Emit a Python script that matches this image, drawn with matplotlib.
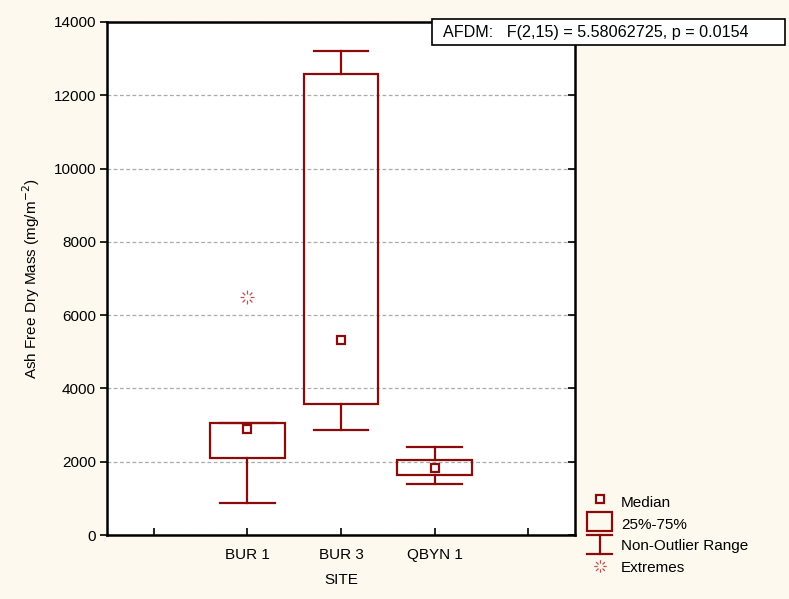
import matplotlib
matplotlib.use("Agg")
import numpy as np
import matplotlib.pyplot as plt
from matplotlib.patches import Rectangle
from matplotlib.lines import Line2D
from matplotlib.path import Path
from matplotlib.legend_handler import HandlerBase

plt.rcParams['font.family'] = ['Liberation Sans', 'DejaVu Sans']

sites = ["BUR 1", "BUR 3", "QBYN 1"]
q1 = [2115, 3580, 1643]
q3 = [3061, 12584, 2060]
medians = [2887, 5334, 1842]
whisk_lo = [868, 2859, 1386]
whisk_hi = [3061, 13220, 2415]
extremes_site = ["BUR 1"]
extremes_val = [6488]
yticks = [0, 2000, 4000, 6000, 8000, 10000, 12000, 14000]
stats_text = "AFDM:   F(2,15) = 5.58062725, p = 0.0154"

RED = "#8B0A0A"
EXT = "#C05050"
BG = "#FDF9EE"
FS = 11

# starburst marker: 8 short radial dashes with hollow centre
_verts, _codes = [], []
for k in range(8):
    ang = k * np.pi / 4
    _verts += [(0.45 * np.cos(ang), 0.45 * np.sin(ang)), (np.cos(ang), np.sin(ang))]
    _codes += [Path.MOVETO, Path.LINETO]
STAR = Path(_verts, _codes)

fig = plt.figure(figsize=(7.89, 5.99), dpi=100, facecolor=BG)
ax = fig.add_axes([0.1356, 0.1068, 0.5932, 0.8565])
ax.set_facecolor("white")

positions = [1, 2, 3]
box_w = 0.8
cap_w = 0.58
for x, lo, a, m, b, hi in zip(positions, whisk_lo, q1, medians, q3, whisk_hi):
    ax.add_patch(Rectangle((x - box_w / 2, a), box_w, b - a, fill=False,
                           edgecolor=RED, lw=1.6, zorder=3))
    ax.plot([x, x], [lo, a], color=RED, lw=1.6, zorder=3)
    ax.plot([x, x], [b, hi], color=RED, lw=1.6, zorder=3)
    ax.plot([x - cap_w / 2, x + cap_w / 2], [lo, lo], color=RED, lw=1.6, zorder=3)
    ax.plot([x - cap_w / 2, x + cap_w / 2], [hi, hi], color=RED, lw=1.6, zorder=3)
    ax.plot([x], [m], marker='s', ms=6, mfc='white', mec=RED, mew=1.6, zorder=4)

ex_x = [positions[sites.index(s)] for s in extremes_site]
ax.plot(ex_x, extremes_val, linestyle='none', marker=STAR, ms=10,
        color=EXT, mew=0.9, zorder=4)

ax.set_xlim(-0.5, 4.5)
ax.set_ylim(0, 14000)
ax.set_xticks([0, 1, 2, 3, 4])
ax.set_xticklabels(["", *sites, ""])
ax.set_yticks(yticks)
ax.set_yticklabels([str(v) for v in yticks])
ax.tick_params(axis='x', direction='in', length=5, width=1.2, labelsize=FS, pad=9)
ax.tick_params(axis='y', direction='out', length=5, width=1.2, labelsize=FS,
               right=True, pad=3)
for t in ax.yaxis.get_major_ticks():
    t.tick2line.set_marker(matplotlib.lines.TICKLEFT)
    t.tick2line.set_markersize(5)
for s in ax.spines.values():
    s.set_linewidth(1.8)
ax.grid(axis='y', color='#AAAAAA', linestyle=(0, (3, 2)), lw=0.9)
ax.set_axisbelow(True)
ax.set_xlabel("SITE", fontsize=FS, labelpad=8)
ax.set_ylabel("Ash Free Dry Mass (mg/m$^{-2}$)", fontsize=FS, labelpad=8)

# statistics box
fig.patches.append(Rectangle((0.547, 0.9249), 0.448, 0.0434, transform=fig.transFigure,
                             fc='white', ec='black', lw=1.2, zorder=10))
fig.text(0.5615, 0.9465, stats_text, fontsize=11.6, va='center', ha='left', zorder=11)


class MedianH(HandlerBase):
    def create_artists(self, legend, orig, xd, yd, w, h, fs, trans):
        return [Line2D([w / 2], [h / 2 + 2], marker='s', ms=6, mfc='white', mec=RED,
                       mew=1.6, transform=trans)]


class BoxH(HandlerBase):
    def create_artists(self, legend, orig, xd, yd, w, h, fs, trans):
        return [Rectangle((0, -2), w, h + 6, fill=False, ec=RED, lw=1.6, transform=trans)]


class RangeH(HandlerBase):
    def create_artists(self, legend, orig, xd, yd, w, h, fs, trans):
        return [Line2D([0, w], [h + 3, h + 3], color=RED, lw=1.6, transform=trans),
                Line2D([w / 2, w / 2], [h + 3, -3], color=RED, lw=1.6, transform=trans),
                Line2D([0, w], [-3, -3], color=RED, lw=1.6, transform=trans)]


class ExtH(HandlerBase):
    def create_artists(self, legend, orig, xd, yd, w, h, fs, trans):
        return [Line2D([w / 2], [h / 2], marker=STAR, ms=9, color=EXT,
                       mew=0.9, transform=trans)]


h1, h2, h3, h4 = Line2D([], []), Line2D([], []), Line2D([], []), Line2D([], [])
leg = fig.legend([h1, h2, h3, h4], ["Median", "25%-75%", "Non-Outlier Range", "Extremes"],
                 handler_map={h1: MedianH(), h2: BoxH(), h3: RangeH(), h4: ExtH()},
                 loc='upper left', bbox_to_anchor=(0.731, 0.190), frameon=False,
                 fontsize=FS, handlelength=1.6, handletextpad=0.6,
                 labelspacing=0.5, borderpad=0.2)

fig.savefig("out.png", dpi=100, facecolor=BG)
